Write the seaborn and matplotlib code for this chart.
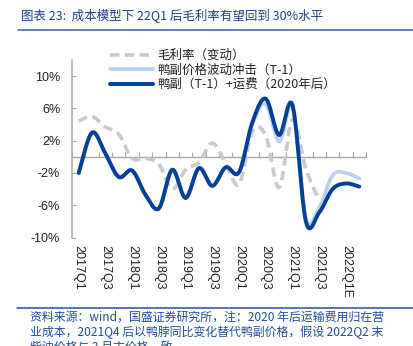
import numpy as np
import matplotlib
matplotlib.use("Agg")
import matplotlib.pyplot as plt
from matplotlib.lines import Line2D
import seaborn as sns

# Quarterly categories, 2017Q1 .. 2022Q2
quarters = ["2017Q1", "2017Q2", "2017Q3", "2017Q4", "2018Q1", "2018Q2",
            "2018Q3", "2018Q4", "2019Q1", "2019Q2", "2019Q3", "2019Q4",
            "2020Q1", "2020Q2", "2020Q3", "2020Q4", "2021Q1", "2021Q2",
            "2021Q3", "2021Q4", "2022Q1E", "2022Q2E"]
xtick_labels = ["2017Q1", "2017Q3", "2018Q1", "2018Q3", "2019Q1", "2019Q3",
                "2020Q1", "2020Q3", "2021Q1", "2021Q3", "2022Q1E"]

# Gross margin change (pct points); no values after 2021Q3
margin_change = [4.4, 5.0, 3.7, 2.8, -0.2, -0.2, -0.9, -4.0, -1.6, -0.7, 1.7,
                 -0.8, -3.4, 3.2, 2.6, -3.8, 4.6, -1.5, -5.4,
                 np.nan, np.nan, np.nan]
# Duck by-product price shock, lagged one quarter
price_shock = [-2.0, 3.0, 0.4, -2.5, -1.7, -4.7, -6.4, -1.6, -5.1, -1.4, -3.6,
               -1.3, -1.9, 4.0, 6.6, 1.9, 6.1, -7.6, -6.3, -2.3, -2.0, -2.7]
# Duck by-product (T-1) plus freight (from 2020)
price_freight = [-2.0, 3.0, 0.4, -2.5, -1.7, -4.7, -6.4, -1.6, -5.1, -1.4, -3.6,
                 -1.3, -1.9, 4.3, 7.2, 2.7, 6.4, -8.0, -6.9, -4.0, -3.3, -3.7]

yticks = [-10, -6, -2, 2, 6, 10]
ytick_labels = ["-10%", "-6%", "-2%", "2%", "6%", "10%"]

series_labels = ["毛利率（变动）", "鸭副价格波动冲击（T-1）", "鸭副（T-1）+运费（2020年后）"]
title = "图表 23:  成本模型下 22Q1 后毛利率有望回到 30%水平"
notes = ["资料来源：wind，国盛证券研究所，注：2020 年后运输费用归在营",
         "业成本，2021Q4 后以鸭脖同比变化替代鸭副价格，假设 2022Q2 末",
         "柴油价格与 3 月末价格一致"]


def smooth_curve(xs, ys, steps=30):
    """Cubic Bezier smoothing through every point (Catmull-Rom tangents)."""
    xs = np.asarray(xs, float)
    ys = np.asarray(ys, float)
    keep = ~np.isnan(ys)
    P = np.column_stack([xs[keep], ys[keep]])
    P_ext = np.vstack([P[0], P, P[-1]])
    t = np.linspace(0, 1, steps)[:, None]
    out = []
    for i in range(len(P) - 1):
        p0, p3 = P_ext[i + 1], P_ext[i + 2]
        p1 = p0 + (P_ext[i + 2] - P_ext[i]) / 6.0
        p2 = p3 - (P_ext[i + 3] - P_ext[i + 1]) / 6.0
        seg = ((1 - t) ** 3) * p0 + 3 * ((1 - t) ** 2) * t * p1 \
            + 3 * (1 - t) * t ** 2 * p2 + t ** 3 * p3
        out.append(seg if i == 0 else seg[1:])
    out = np.vstack(out)
    return out[:, 0], out[:, 1]


sns.set_theme(style="white")
cjk = ["Noto Sans CJK SC", "DejaVu Sans"]
plt.rcParams["font.family"] = cjk

W, H = 414, 346
fig = plt.figure(figsize=(W / 100, H / 100), dpi=100)
fig.patch.set_facecolor("white")

x0, x1, y_top, y_bot = 72, 366, 60, 237.5
ax = fig.add_axes([x0 / W, (H - y_bot) / H, (x1 - x0) / W, (y_bot - y_top) / H])
ax.set_facecolor("white")

xpos = np.arange(len(quarters))
gray, light, dark = "#CACACA", "#B9D3EE", "#063F96"

sx, sy = smooth_curve(xpos, margin_change)
sns.lineplot(x=sx, y=sy, sort=False, estimator=None, ax=ax, color=gray,
             lw=2.6, linestyle=(0, (2.6, 1.5)), label=series_labels[0])
sx, sy = smooth_curve(xpos, price_shock)
sns.lineplot(x=sx, y=sy, sort=False, estimator=None, ax=ax, color=light,
             lw=2.7, label=series_labels[1])
sx, sy = smooth_curve(xpos, price_freight)
sns.lineplot(x=sx, y=sy, sort=False, estimator=None, ax=ax, color=dark,
             lw=2.8, label=series_labels[2])

ax.set_xlim(-0.5, len(quarters) - 0.5)
ax.set_ylim(-10, 12)

axis_gray = "#A6A6A6"
for side in ["top", "right", "bottom"]:
    ax.spines[side].set_visible(False)
ax.spines["left"].set_color(axis_gray)
ax.spines["left"].set_linewidth(1.1)

ax.set_yticks(yticks, ytick_labels, family=["Liberation Sans", "DejaVu Sans"])
ax.tick_params(axis="y", direction="in", length=3, width=0.8, color=axis_gray,
               pad=8.5, labelsize=9, labelcolor="#222222", left=True)

ax.set_xticks(xpos[::2], xtick_labels, rotation=-90,
              family=["Liberation Sans", "DejaVu Sans"])
ax.tick_params(axis="x", length=0, pad=5.5, labelsize=9, labelcolor="#222222")

# Category axis crossing at zero, with tick marks between quarters
zero_axis = ax.secondary_xaxis(10 / 22)
zero_axis.set_xticks(np.arange(-0.5, len(quarters), 1.0))
zero_axis.tick_params(direction="in", length=3.5, width=0.8, color=axis_gray,
                      labelbottom=False, labeltop=False)
for sp in zero_axis.spines.values():
    sp.set_color(axis_gray)
    sp.set_linewidth(1.0)

ax.grid(False)
leg = ax.legend(loc="upper left", bbox_to_anchor=(110 / W, 1 - 49 / H),
                bbox_transform=fig.transFigure, frameon=False, fontsize=9,
                handlelength=3.45, handletextpad=0.32, labelspacing=0.12,
                borderpad=0, borderaxespad=0)
for txt in leg.get_texts():
    txt.set_color("#222222")

title_blue = "#1F3F86"
fig.text(21 / W, 1 - 15 / H, title, ha="left", va="center", fontsize=9,
         color=title_blue, style="italic")
fig.add_artist(Line2D([18 / W, 1], [1 - 29.5 / H] * 2, color="#3A62B0", lw=1.1))
fig.add_artist(Line2D([17 / W, 1], [1 - 308 / H] * 2, color="#2A50A0", lw=1.1))
for i, line in enumerate(notes):
    fig.text(30 / W, 1 - (317.5 + 14.7 * i) / H, line, ha="left", va="center",
             fontsize=8.6, color="#1F4E9A", style="italic")

fig.savefig("out.png", dpi=100, facecolor="white")
